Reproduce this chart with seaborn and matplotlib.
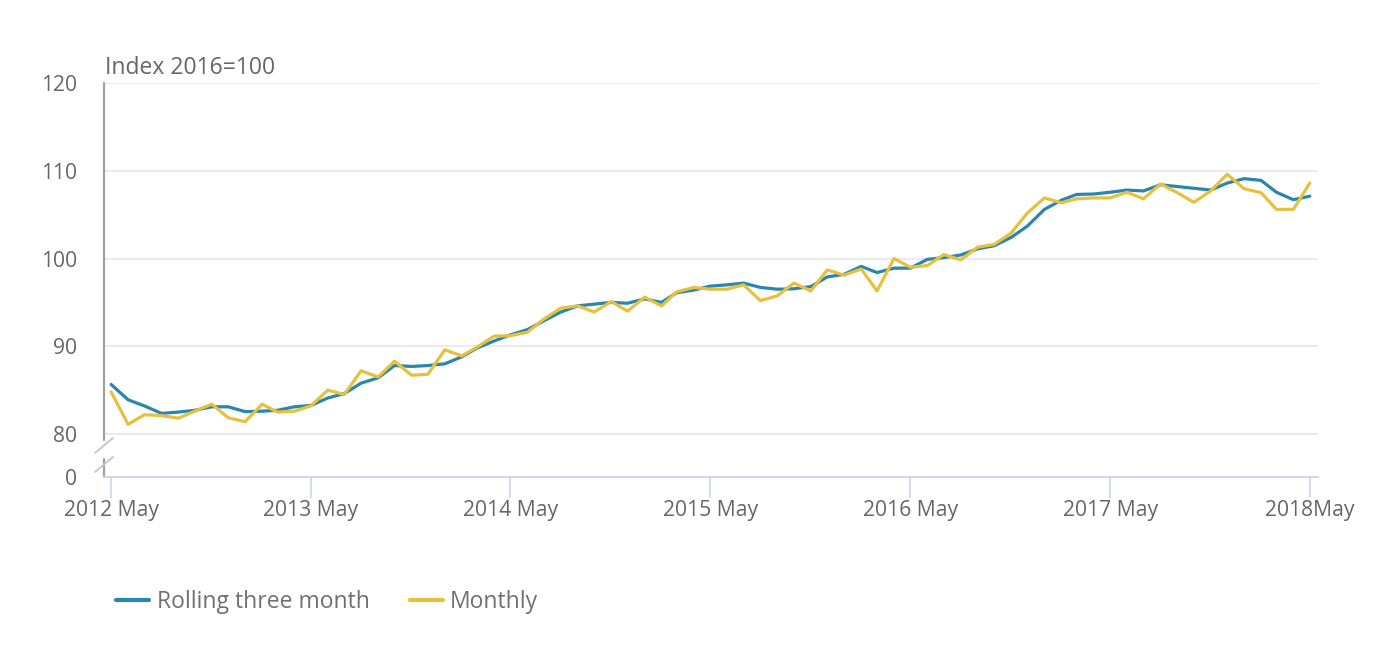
import matplotlib
matplotlib.use("Agg")
import matplotlib.pyplot as plt
import numpy as np
import pandas as pd
import seaborn as sns

# ---- data ----
start_month = "2012-05-01"
n_months = 73
rolling = [85.65, 83.9, 83.2, 82.35, 82.5, 82.7, 83.1, 83.1, 82.55, 82.6,
           82.7, 83.1, 83.25, 84.1, 84.6, 85.8, 86.4, 87.8, 87.7, 87.8,
           88.0, 88.8, 89.8, 90.6, 91.3, 91.9, 92.9, 93.9, 94.6, 94.8,
           95.0, 94.9, 95.4, 95.0, 96.1, 96.4, 96.85, 97.0, 97.2, 96.7,
           96.5, 96.55, 96.8, 97.9, 98.2, 99.1, 98.4, 98.9, 98.9, 99.9,
           100.1, 100.4, 101.1, 101.45, 102.4, 103.7, 105.6, 106.65, 107.3, 107.35,
           107.55, 107.8, 107.7, 108.4, 108.2, 108.0, 107.8, 108.6, 109.1, 108.9,
           107.55, 106.7, 107.1]
monthly = [84.8, 81.1, 82.2, 82.1, 81.8, 82.6, 83.4, 81.85, 81.4, 83.4,
           82.5, 82.6, 83.2, 85.0, 84.5, 87.2, 86.5, 88.3, 86.7, 86.8,
           89.6, 88.9, 89.9, 91.15, 91.2, 91.6, 93.1, 94.35, 94.6, 93.9,
           95.1, 94.0, 95.6, 94.6, 96.2, 96.7, 96.5, 96.5, 97.0, 95.2,
           95.75, 97.2, 96.3, 98.7, 98.1, 98.8, 96.3, 100.0, 99.0, 99.2,
           100.45, 99.85, 101.3, 101.6, 102.9, 105.2, 106.9, 106.35, 106.8, 106.9,
           106.9, 107.55, 106.8, 108.5, 107.5, 106.4, 107.7, 109.6, 107.95, 107.5,
           105.6, 105.6, 108.6]
series_names = ["Rolling three month", "Monthly"]
x_tick_dates = ["2012-05-01", "2013-05-01", "2014-05-01", "2015-05-01",
                "2016-05-01", "2017-05-01", "2018-05-01"]
x_tick_labels = ["2012 May", "2013 May", "2014 May", "2015 May",
                 "2016 May", "2017 May", "2018May"]
y_tick_values = [80, 90, 100, 110, 120]
y_tick_labels = ["80", "90", "100", "110", "120"]
y_axis_title = "Index 2016=100"

# ---- build ----
months = pd.date_range(start_month, periods=n_months, freq="MS")
df = pd.DataFrame({
    "month": np.concatenate([months, months]),
    "value": rolling + monthly,
    "series": [series_names[0]] * n_months + [series_names[1]] * n_months,
})

sns.set_theme(style="white")
plt.rcParams["font.family"] = ["Open Sans", "DejaVu Sans"]

W, H = 1397, 650
fig = plt.figure(figsize=(W / 100, H / 100), dpi=100)
ax = fig.add_axes([104 / W, 1 - 477 / H, (1318 - 104) / W, (477 - 83) / H])

palette = {series_names[0]: "#2a86ae", series_names[1]: "#e6c13e"}
sns.lineplot(data=df, x="month", y="value", hue="series", palette=palette,
             linewidth=2.3, ax=ax, legend=True)

# axes ranges
ax.set_xlim(pd.Timestamp("2012-04-18"), pd.Timestamp("2018-05-16"))
y_bottom = 75.1
ax.set_ylim(y_bottom, 120)

# grid
ax.set_yticks([y_bottom] + y_tick_values)
ax.set_yticklabels(["0"] + y_tick_labels)
for v in y_tick_values:
    ax.axhline(v, color="#e6e6e6", lw=1.1, zorder=0)
ax.grid(False)

ax.set_xticks([pd.Timestamp(d) for d in x_tick_dates])
ax.set_xticklabels(x_tick_labels)

tick_color = "#666666"
ax.tick_params(axis="y", length=0, pad=19, labelsize=15.2, labelcolor=tick_color)
ax.tick_params(axis="x", length=15, width=1.2, color="#ccd6eb", pad=1.5,
               labelsize=15.2, labelcolor=tick_color, bottom=True)
ax.set_xlabel("")
ax.set_ylabel("")

for s in ["top", "right", "left"]:
    ax.spines[s].set_visible(False)
ax.spines["bottom"].set_color("#ccd6eb")
ax.spines["bottom"].set_linewidth(1.3)

# broken left axis
spine_kw = dict(transform=ax.transAxes, clip_on=False, color="#a0a0a0", lw=1.6)
ax.plot([0, 0], [0.094, 1.0], **spine_kw)
ax.plot([0, 0], [0.0, 0.046], **spine_kw)
slash_kw = dict(transform=ax.transAxes, clip_on=False, color="#c8c8c8", lw=1.4)
ax.plot([-0.0074, 0.0074], [0.061, 0.099], **slash_kw)
ax.plot([-0.0074, 0.0074], [0.0127, 0.0508], **slash_kw)

# axis title
ax.text(0.001, 1 + (83 - 68) / 394, y_axis_title, transform=ax.transAxes,
        ha="left", va="center", fontsize=16.5, color=tick_color)

# legend
handles, labels = ax.get_legend_handles_labels()
ax.get_legend().remove()
leg = fig.legend(handles, labels, loc="center left",
                 bbox_to_anchor=(116 / W, 1 - 602 / H), ncol=2, frameon=False,
                 fontsize=16.5, handlelength=1.45, handletextpad=0.32,
                 columnspacing=1.75, borderpad=0, borderaxespad=0)
for t in leg.get_texts():
    t.set_color("#707070")
for l in leg.get_lines():
    l.set_linewidth(3)

fig.savefig("out.png", dpi=100, facecolor="white")
